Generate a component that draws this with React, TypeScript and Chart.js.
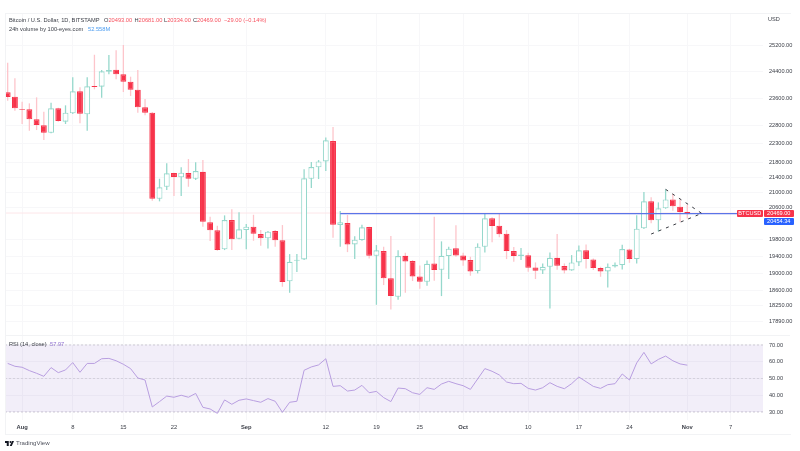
import { useEffect, useRef } from "react";
import { Chart, registerables } from "chart.js";

Chart.register(...registerables);

// one entry per day, 30 Jul to 1 Nov
const opens = [
  23766, 23637, 23281, 23272, 22986, 22816, 22607, 23301, 22918, 23158, 23796, 23129, 23954, 23933, 24381, 24441, 24303, 24081, 23843, 23330, 23175,
  20834, 21146, 21508, 21394, 21508, 21356, 21541, 20234, 20035, 19570, 20292, 19828,
  20042, 20125, 19944, 19838, 20017, 19789, 18810, 19294, 19328, 21356, 21660, 21820, 22375, 20167, 20216, 19690, 19796, 20117, 19413, 19528, 18880, 18455, 19413, 19287, 18926, 18800, 19232, 19081, 19407, 19594,
  19423, 19311, 19050, 19633, 20335, 20150, 19951, 19528, 19407, 19430, 19138, 19067, 19152, 19366, 19169, 19067, 19256, 19545, 19328, 19122, 19043, 19161, 19193, 19569, 19335, 20085, 20767, 20285, 20588, 20818, 20630,
  20493,
];
const highs = [
  24655, 24183, 23491, 23445, 23619, 23203, 23462, 23318, 23387, 24213, 23915, 24213, 24898, 24432, 24889, 25035, 25200, 24231, 24432, 23569, 23195,
  21356, 21767, 21516, 21660, 21883, 21794, 21856, 20376, 20150, 20410, 20563, 20487,
  20192, 20425, 20042, 20017, 20042, 20167, 19455, 19455, 21606, 21802, 21856, 22478, 22768, 20520, 20418, 19887, 20174, 20125, 19674, 19633, 19894, 19545, 19486, 19311, 19185, 19304, 20376, 19764, 19633, 20160,
  19486, 19391, 19715, 20469, 20360, 20461, 20042, 19625, 19601, 19486, 19256, 19232, 19496, 19944, 19232, 19431, 19666, 19690, 19352, 19152, 19232, 19256, 19682, 19584, 20410, 21008, 20870, 20741, 21078, 20956, 20818,
  20681,
];
const lows = [
  23520, 23232, 22853, 22663, 22683, 22403, 22591, 22918, 22853, 23138, 22873, 22663, 23855, 23608, 24303, 24153, 23775, 23658, 23175, 23100, 20782,
  20767, 21060, 20904, 20904, 21146, 21322, 20125, 19771, 19535, 19552, 19552, 19813,
  19570, 19779, 19657, 19593, 19633, 18685, 18546, 19027, 19311, 21112, 21348, 21560, 19853, 19633, 19503, 19335, 19779, 19352, 18272, 18724, 18168, 18386, 18546, 18817, 18638, 18707, 18824, 18470, 18864, 19391,
  19176, 18941, 18996, 19496, 19740, 19862, 19335, 19270, 19311, 19034, 18864, 18980, 18190, 19081, 18996, 19058, 19169, 19114, 19074, 18917, 18670, 19138, 19090, 19246, 19232, 20067, 20210, 20010, 20578, 20527, 20250,
  20334,
];
const closes = [
  23628, 23301, 23261, 22986, 22824, 22607, 23301, 22938, 23175, 23796, 23146, 23945, 23924, 24393, 24432, 24303, 24081, 23843, 23330, 23175, 20834,
  21131, 21500, 21402, 21516, 21356, 21560, 20250, 20035, 19552, 20292, 19813, 20060,
  20125, 19950, 19838, 20000, 19789, 18793, 19270, 19318, 21367, 21668, 21820, 22395, 20174, 20234, 19690, 19803, 20110, 19413, 19545, 18880, 18470, 19407, 19280, 18926, 18800, 19222, 19074, 19413, 19584, 19423,
  19304, 19043, 19633, 20335, 20142, 19936, 19528, 19407, 19448, 19128, 19058, 19152, 19366, 19176, 19067, 19256, 19545, 19335, 19122, 19043, 19152, 19200, 19576, 19335, 20075, 20767, 20285, 20588, 20818, 20640, 20494,
  20469,
];
const rsiValues = [
  59, 57.3, 56.7, 54.7, 53.1, 51.3, 56.5, 53.5, 55.1, 59.5, 53.7, 59, 59, 61.8, 62, 60.6, 58.5, 55.9, 50.3, 49.1, 33,
  36.2, 39.5, 38.8, 40, 38.8, 41.1, 32.8, 31.8, 29.2, 37.2, 34.6, 37,
  37.8, 36.8, 35.8, 38, 36.4, 29.8, 35.8, 36.4, 54.9, 56.9, 58.1, 61.8, 45.3, 45.7, 42.5, 43.1, 45.9, 41.5, 42.3, 38.6, 36.2, 44.3, 43.9, 41.5, 40.5, 44.5, 43.5, 46.7, 48.3, 46.9,
  45.7, 43.5, 49.7, 55.9, 54.3, 52.1, 47.9, 46.9, 47.1, 44.1, 43.1, 44.5, 47.5, 45.3, 43.9, 46.9, 50.9, 48.1, 45.3, 44.1, 46.3, 46.9, 52.7, 49.1, 59.3, 65.6, 58.7, 61.4, 63.4, 60.6, 58.7,
  57.97,
];

const priceTicks = [25200, 24400, 23600, 22800, 22300, 21800, 21400, 21000, 20600, 19800, 19400, 19000, 18600, 18250, 17890];
const rsiTicks = [70, 60, 50, 40, 30];
const dateTicks = [2, 9, 16, 23, 33, 44, 51, 57, 63, 72, 79, 86, 94, 100];
const dateLabels = ["Aug", "8", "15", "22", "Sep", "12", "19", "25", "Oct", "10", "17", "24", "Nov", "7"];
const monthLabels = ["Aug", "Sep", "Oct", "Nov"];

const lastPrice = 20469;
const levelPrice = 20454.34;
const levelStart = 46;
const upperTrend = [{ x: 91, y: 21078 }, { x: 96, y: 20460 }];
const lowerTrend = [{ x: 89, y: 19944 }, { x: 96, y: 20460 }];

const xMin = -0.37;
const xMax = 104.47;

const RED = "#f7334a";
const PINK = "#fdc5cb";
const TEAL = "#96d8cc";
const GRID = "#f7f7f9";
const FONT = "'Liberation Sans', Arial, sans-serif";
const TICK = "#3d4049";

const xScale = (showLabels: boolean) => ({
  type: "linear" as const,
  min: xMin,
  max: xMax,
  offset: false,
  grid: { color: GRID, drawTicks: false, offset: false },
  border: { display: false },
  afterBuildTicks: (scale: any) => {
    scale.ticks = dateTicks.map((value) => ({ value }));
  },
  afterFit: (scale: any) => {
    scale.height = showLabels ? 31 : 0;
    scale.paddingLeft = 0;
    scale.paddingRight = 0;
  },
  ticks: {
    display: showLabels,
    autoSkip: false,
    maxRotation: 0,
    padding: 4,
    color: TICK,
    font: (ctx: any) => ({
      family: FONT,
      size: 5.8,
      weight: monthLabels.includes(ctx.tick?.label) ? "bold" : "normal",
    }),
    callback: (_v: any, i: number) => dateLabels[i],
  },
});

const fitYAxis = (scale: any) => {
  // the axis labels must not push the plot area in
  scale.width = 37;
  scale.paddingTop = 0;
  scale.paddingBottom = 0;
};

const yTicks = {
  autoSkip: false,
  padding: 6,
  color: TICK,
  font: { family: FONT, size: 5.6 },
  callback: (v: any) => Number(v).toFixed(2),
};

const text = (left: number, top: number, size: number, color: string): React.CSSProperties => ({
  position: "absolute",
  left,
  top,
  fontSize: size,
  lineHeight: "8px",
  color,
  whiteSpace: "nowrap",
});

const badge = (left: number, top: number, width: number, bg: string): React.CSSProperties => ({
  position: "absolute",
  left,
  top,
  width,
  height: 7,
  background: bg,
  color: "#fff",
  fontSize: 5.6,
  lineHeight: "7px",
  textAlign: "center",
  borderRadius: 1,
});

export default function App() {
  const mainRef = useRef<HTMLCanvasElement>(null);
  const rsiRef = useRef<HTMLCanvasElement>(null);

  useEffect(() => {
    const candleColors = closes.map((c, i) => c < opens[i]);

    const main = new Chart(mainRef.current!, {
      type: "bar",
      data: {
        datasets: [
          {
            type: "line",
            data: [{ x: xMin, y: lastPrice }, { x: xMax, y: lastPrice }],
            borderColor: "#fde6e9",
            borderWidth: 1,
            pointRadius: 0,
            order: 4,
          },
          {
            type: "bar",
            data: lows.map((l, i) => ({ x: i, y: [l, highs[i]] })),
            backgroundColor: candleColors.map((down) => (down ? PINK : TEAL)),
            barThickness: 1.3,
            grouped: false,
            inflateAmount: 0,
            order: 3,
          },
          {
            type: "bar",
            data: opens.map((o, i) => ({ x: i, y: [o, closes[i]] })),
            backgroundColor: candleColors.map((down) => (down ? RED : "#ffffff")),
            borderColor: candleColors.map((down) => (down ? RED : TEAL)),
            borderWidth: 1.1,
            borderSkipped: false,
            barThickness: 5.9,
            grouped: false,
            inflateAmount: 0,
            order: 2,
          },
          {
            type: "line",
            data: [{ x: levelStart, y: levelPrice }, { x: xMax, y: levelPrice }],
            borderColor: "#5b74e8",
            borderWidth: 1.1,
            pointRadius: 0,
            order: 1,
          },
          {
            type: "line",
            data: upperTrend,
            borderColor: "#20222a",
            borderWidth: 0.9,
            borderDash: [3, 5],
            pointRadius: 0,
            order: 0,
          },
          {
            type: "line",
            data: lowerTrend,
            borderColor: "#20222a",
            borderWidth: 0.9,
            borderDash: [3, 5],
            pointRadius: 0,
            order: 0,
          },
        ],
      } as any,
      options: {
        responsive: false,
        animation: false,
        layout: { padding: { left: 5, top: 13, right: 0, bottom: 0 } },
        plugins: { legend: { display: false }, tooltip: { enabled: false } },
        scales: {
          x: xScale(false),
          y: {
            type: "logarithmic",
            position: "right",
            min: 17580,
            max: 26218,
            grid: { color: GRID, drawTicks: false },
            border: { display: false },
            afterBuildTicks: (scale: any) => {
              scale.ticks = priceTicks.map((value) => ({ value }));
            },
            afterFit: fitYAxis,
            ticks: yTicks,
          },
        },
      } as any,
    });

    const rsi = new Chart(rsiRef.current!, {
      type: "line",
      data: {
        datasets: [
          {
            data: [{ x: xMin, y: 70 }, { x: xMax, y: 70 }],
            borderColor: "#c4c1cc",
            borderWidth: 0.8,
            borderDash: [2, 2],
            pointRadius: 0,
            fill: "+1",
            backgroundColor: "rgba(126, 87, 194, 0.1)",
            order: 1,
          },
          {
            data: [{ x: xMin, y: 30 }, { x: xMax, y: 30 }],
            borderColor: "#c4c1cc",
            borderWidth: 0.8,
            borderDash: [2, 2],
            pointRadius: 0,
            order: 1,
          },
          {
            data: [{ x: xMin, y: 50 }, { x: xMax, y: 50 }],
            borderColor: "#cfccd6",
            borderWidth: 0.8,
            borderDash: [2, 2],
            pointRadius: 0,
            order: 0,
          },
          {
            data: rsiValues.map((y, x) => ({ x, y })),
            borderColor: "#b89ee0",
            borderWidth: 1,
            pointRadius: 0,
            tension: 0,
            order: -1,
          },
        ],
      },
      options: {
        responsive: false,
        animation: false,
        layout: { padding: { left: 5, top: 0, right: 0, bottom: 0 } },
        plugins: { legend: { display: false }, tooltip: { enabled: false } },
        scales: {
          x: xScale(true),
          y: {
            type: "linear",
            position: "right",
            min: 25.22,
            max: 75.37,
            grid: { color: GRID, drawTicks: false },
            border: { display: false },
            afterBuildTicks: (scale: any) => {
              scale.ticks = rsiTicks.map((value) => ({ value }));
            },
            afterFit: fitYAxis,
            ticks: yTicks,
          },
        },
      } as any,
    });

    return () => {
      main.destroy();
      rsi.destroy();
    };
  }, []);

  return (
    <div style={{ position: "absolute", left: 0, top: 0, width: 800, height: 451, fontFamily: FONT, background: "#fff", overflow: "hidden" }}>
      <canvas ref={mainRef} width={800} height={336} style={{ position: "absolute", left: 0, top: 0 }} />
      <canvas ref={rsiRef} width={800} height={115} style={{ position: "absolute", left: 0, top: 336 }} />

      {/* pane frame */}
      <div style={{ position: "absolute", left: 5, top: 13, width: 785, height: 420, border: "1px solid #f2f3f5", borderRight: "none", pointerEvents: "none" }} />
      <div style={{ position: "absolute", left: 5, top: 335, width: 785, height: 1, background: "#f2f3f5" }} />

      <span style={text(9, 16, 5.7, "#3d4049")}>Bitcoin / U.S. Dollar, 1D, BITSTAMP</span>
      <span style={text(104, 16, 5.7, "#f7525f")}><span style={{ color: "#3d4049" }}>O</span>20493.00</span>
      <span style={text(134.5, 16, 5.7, "#f7525f")}><span style={{ color: "#3d4049" }}>H</span>20681.00</span>
      <span style={text(164, 16, 5.7, "#f7525f")}><span style={{ color: "#3d4049" }}>L</span>20334.00</span>
      <span style={text(193, 16, 5.7, "#f7525f")}><span style={{ color: "#3d4049" }}>C</span>20469.00</span>
      <span style={text(224, 16, 5.7, "#f7525f")}>−29.00 (−0.14%)</span>
      <span style={text(9, 25, 5.7, "#3d4049")}>24h volume by 100-eyes.com</span>
      <span style={text(88, 25, 5.7, "#4a9bf0")}>52.558M</span>
      <span style={text(768, 15, 5.6, "#3d4049")}>USD</span>

      <span style={text(9, 340, 5.7, "#3d4049")}>RSI (14, close)</span>
      <span style={text(50, 340, 5.7, "#8f6fd0")}>57.97</span>

      <span style={badge(737, 210, 25.5, RED)}>BTCUSD</span>
      <span style={badge(764, 210, 29.5, RED)}>20469.00</span>
      <span style={badge(764, 218, 29.5, "#2962ff")}>20454.34</span>

      <svg width={9} height={5} viewBox="0 0 36 20" style={{ position: "absolute", left: 5, top: 441 }}>
        <path d="M0 0h15v20H7V8H0z" fill="#131722" />
        <circle cx={22} cy={4} r={4} fill="#131722" />
        <path d="M28 0h8l-9 20h-8z" fill="#131722" />
      </svg>
      <span style={text(16, 439, 6.1, "#50535e")}>TradingView</span>
    </div>
  );
}
